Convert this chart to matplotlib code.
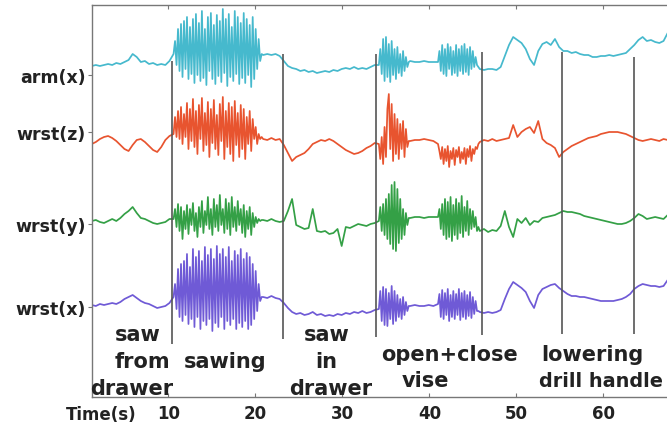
import numpy as np
import matplotlib
matplotlib.use("Agg")
import matplotlib.pyplot as plt

# ---------------- data ----------------
# time spans (s) of the recording segments: quiet, sawing, quiet, vise-1, pause, vise-2, quiet
seg_bounds = [1.2, 10.6, 20.9, 34.2, 37.8, 41.0, 45.8, 67.4]

channel_names = ["arm(x)", "wrst(z)", "wrst(y)", "wrst(x)"]
channel_ticks = [76, 133, 225, 308]

arm_x = [
    [67, 66, 67, 66, 65, 66, 64, 65, 63, 61, 55, 58, 63, 62, 65, 64, 66, 65, 66, 62],
    [55, 42, 66, 30, 72, 25, 78, 22, 70, 18, 80, 28, 75, 20, 84, 15, 76, 24, 82, 12,
     79, 30, 86, 18, 72, 14, 80, 26, 85, 16, 77, 22, 83, 10, 74, 20, 87, 15, 78, 28,
     82, 12, 75, 18, 85, 24, 79, 14, 84, 20, 76, 26, 88, 18, 80, 30, 70, 40, 62, 55],
    [56, 55, 56, 55, 57, 62, 67, 69, 70, 72, 71, 73, 72, 74, 73, 72, 73, 71, 72, 70,
     69, 70, 68, 70, 69, 70, 68, 66],
    [66, 50, 75, 40, 82, 38, 78, 45, 83, 42, 76, 50, 80, 48, 74, 55, 77, 52, 72, 58, 68, 63],
    [62, 63, 63, 62, 63, 63],
    [63, 52, 72, 46, 75, 50, 77, 45, 70, 48, 76, 52, 74, 46, 77, 50, 72, 47, 75, 45,
     73, 50, 76, 48, 70, 52, 68, 58, 66, 68],
    [70, 71, 70, 70, 71, 68, 57, 46, 38, 41, 44, 50, 60, 66, 52, 45, 43, 46, 40, 48,
     52, 52, 54, 53, 55, 56, 56, 58, 58, 57, 57, 56, 57, 56, 55, 54, 50, 46, 41, 38,
     42, 41, 43, 44, 42, 34],
]

wrst_z = [
    [145, 143, 140, 138, 137, 139, 142, 146, 150, 152, 146, 141, 140, 143, 147, 151, 153, 148, 141, 137],
    [135, 118, 138, 112, 140, 108, 145, 115, 138, 104, 150, 110, 142, 100, 148, 112, 155, 106, 140, 99,
     152, 114, 146, 103, 158, 110, 144, 101, 150, 116, 156, 105, 142, 98, 160, 112, 148, 104, 155, 108,
     162, 102, 146, 114, 158, 106, 150, 110, 160, 118, 145, 112, 152, 120, 140, 128, 145, 135, 140, 138],
    [140, 141, 139, 141, 140, 146, 154, 162, 158, 156, 154, 150, 145, 143, 141, 142, 140, 142, 145, 148,
     151, 153, 155, 154, 152, 149, 147, 144],
    [145, 160, 138, 165, 128, 158, 110, 95, 150, 105, 162, 115, 155, 120, 160, 125, 150, 122, 158, 130, 148, 142],
    [142, 141, 141, 140, 141, 142],
    [145, 152, 160, 148, 165, 150, 162, 147, 168, 152, 160, 149, 166, 151, 158, 148, 164, 153, 160, 149,
     165, 150, 158, 147, 162, 150, 155, 148, 150, 145],
    [143, 141, 142, 140, 142, 141, 140, 139, 126, 138, 133, 130, 128, 134, 122, 140, 144, 146, 149, 158,
     153, 150, 147, 145, 143, 141, 139, 138, 137, 135, 134, 133, 133, 133, 134, 135, 137, 139, 141, 142,
     141, 140, 141, 142, 140, 141],
]

wrst_y = [
    [222, 221, 223, 224, 222, 220, 222, 219, 215, 212, 208, 214, 219, 220, 222, 224, 225, 224, 223, 220],
    [220, 210, 228, 205, 232, 208, 240, 212, 230, 206, 235, 210, 226, 204, 232, 214, 238, 208, 228, 202,
     234, 212, 226, 198, 230, 210, 236, 200, 228, 206, 232, 196, 226, 210, 234, 200, 230, 204, 236, 198,
     228, 208, 232, 202, 226, 210, 234, 206, 238, 212, 230, 208, 236, 214, 228, 218, 224, 220, 222, 221],
    [221, 222, 220, 222, 223, 222, 212, 200, 226, 228, 230, 229, 210, 232, 233, 232, 235, 234, 230, 247,
     228, 229, 227, 225, 226, 227, 225, 224],
    [222, 208, 232, 205, 236, 200, 240, 195, 245, 186, 250, 183, 252, 190, 244, 200, 240, 210, 236, 214, 226, 219],
    [219, 218, 218, 219, 218, 218],
    [218, 210, 230, 205, 236, 200, 240, 203, 238, 198, 242, 206, 236, 200, 240, 204, 234, 197, 238, 208,
     232, 202, 236, 210, 230, 212, 228, 218, 232, 228],
    [232, 230, 233, 231, 232, 227, 212, 228, 238, 220, 224, 219, 226, 222, 223, 219, 218, 217, 216, 214,
     212, 213, 213, 214, 215, 217, 218, 219, 220, 221, 222, 223, 224, 225, 225, 224, 222, 219, 215, 217,
     220, 219, 218, 219, 220, 216],
]

wrst_x = [
    [306, 307, 305, 306, 305, 304, 305, 303, 300, 298, 296, 299, 302, 304, 305, 307, 309, 308, 307, 304],
    [298, 285, 310, 270, 318, 265, 322, 262, 316, 255, 325, 268, 320, 250, 328, 258, 318, 252, 330, 262,
     322, 248, 326, 256, 320, 250, 332, 260, 324, 247, 328, 255, 318, 250, 330, 258, 322, 248, 326, 262,
     320, 252, 330, 256, 324, 250, 328, 260, 322, 254, 330, 258, 326, 265, 320, 272, 312, 285, 302, 298],
    [298, 299, 297, 299, 300, 304, 309, 313, 315, 314, 316, 315, 313, 316, 315, 317, 316, 317, 315, 316,
     314, 315, 313, 314, 312, 314, 313, 311],
    [310, 292, 322, 288, 326, 290, 327, 294, 320, 287, 325, 292, 322, 296, 318, 300, 320, 298, 316, 303, 312, 307],
    [307, 306, 307, 307, 306, 307],
    [305, 295, 318, 291, 320, 294, 316, 290, 322, 296, 318, 292, 320, 295, 316, 290, 321, 294, 318, 292,
     320, 296, 317, 293, 319, 298, 315, 302, 312, 312],
    [313, 314, 313, 314, 313, 311, 300, 290, 283, 286, 289, 293, 302, 309, 296, 290, 288, 286, 285, 289,
     292, 295, 297, 297, 298, 298, 299, 300, 301, 302, 302, 302, 302, 301, 300, 298, 295, 290, 287, 285,
     286, 287, 287, 288, 287, 281],
]

# activity boundaries (s)
event_times = [10.43, 23.18, 33.87, 46.05, 55.25, 63.53]

xtick_vals = [10, 20, 30, 40, 50, 60]
xtick_labels = ["10", "20", "30", "40", "50", "60"]

activity_text = ["saw", "from", "drawer", "sawing", "saw", "in", "drawer",
                 "open+close", "vise", "lowering", "drill handle"]

# ---------------- layout / style ----------------
event_tops = [62, 55, 55, 53, 53, 58]
event_bottoms = [345, 340, 338, 336, 335, 335]
activity_pos = [(6.53, 341, "center", 15), (7.08, 368, "center", 15), (5.83, 395, "center", 15),
                (16.5, 368, "center", 15), (28.2, 341, "center", 15), (28.2, 368, "center", 15),
                (28.7, 395, "center", 15), (42.3, 361, "center", 15), (39.6, 387, "center", 15),
                (52.85, 361, "left", 15), (52.6, 387, "left", 13.9)]
colors = ["#46b9cd", "#e8542f", "#34a046", "#6f5ad6"]
TXT = "#222222"
SPINE = "#777777"

W, H = 667, 427
fig = plt.figure(figsize=(W / 100, H / 100), dpi=100)
ax = fig.add_axes([91.5 / W, (H - 398) / H, (W - 91.5) / W, (398 - 6) / H])

channels = [arm_x, wrst_z, wrst_y, wrst_x]
for vals_list, color in zip(channels, colors):
    ts, ys = [], []
    n_seg = len(vals_list)
    for i, seg in enumerate(vals_list):
        t = np.linspace(seg_bounds[i], seg_bounds[i + 1], len(seg), endpoint=(i == n_seg - 1))
        ts.append(t)
        ys.append(np.asarray(seg, dtype=float))
    ax.plot(np.concatenate(ts), np.concatenate(ys), color=color, lw=1.25,
            solid_joinstyle="round", zorder=2)

ax.vlines(event_times, event_tops, event_bottoms, colors="#555555", lw=1.2, zorder=3)

ax.set_xlim(1.17, 67.32)
ax.set_ylim(398, 6)

for side in ["left", "top", "bottom"]:
    ax.spines[side].set_color(SPINE)
    ax.spines[side].set_linewidth(1.0)
ax.spines["right"].set_visible(False)

ax.set_xticks(xtick_vals)
ax.set_xticklabels(xtick_labels, fontsize=12, fontweight="bold", color=TXT)
ax.tick_params(axis="x", direction="in", length=3, top=True, bottom=True,
               pad=5, color=SPINE)
ax.set_yticks(channel_ticks)
ax.set_yticklabels(channel_names, fontsize=12.5, fontweight="bold", color=TXT)
ax.tick_params(axis="y", direction="out", length=3, pad=1, right=False, color=SPINE)

for txt, (tx, ty, ha, fs) in zip(activity_text, activity_pos):
    ax.text(tx, ty, txt, ha=ha, va="baseline", fontsize=fs, fontweight="bold",
            color=TXT, clip_on=False)

fig.text(101 / W, 1 - 406 / H, "Time(s)", ha="center", va="top", fontsize=12,
         fontweight="bold", color=TXT)

fig.savefig("out.png", dpi=100)
